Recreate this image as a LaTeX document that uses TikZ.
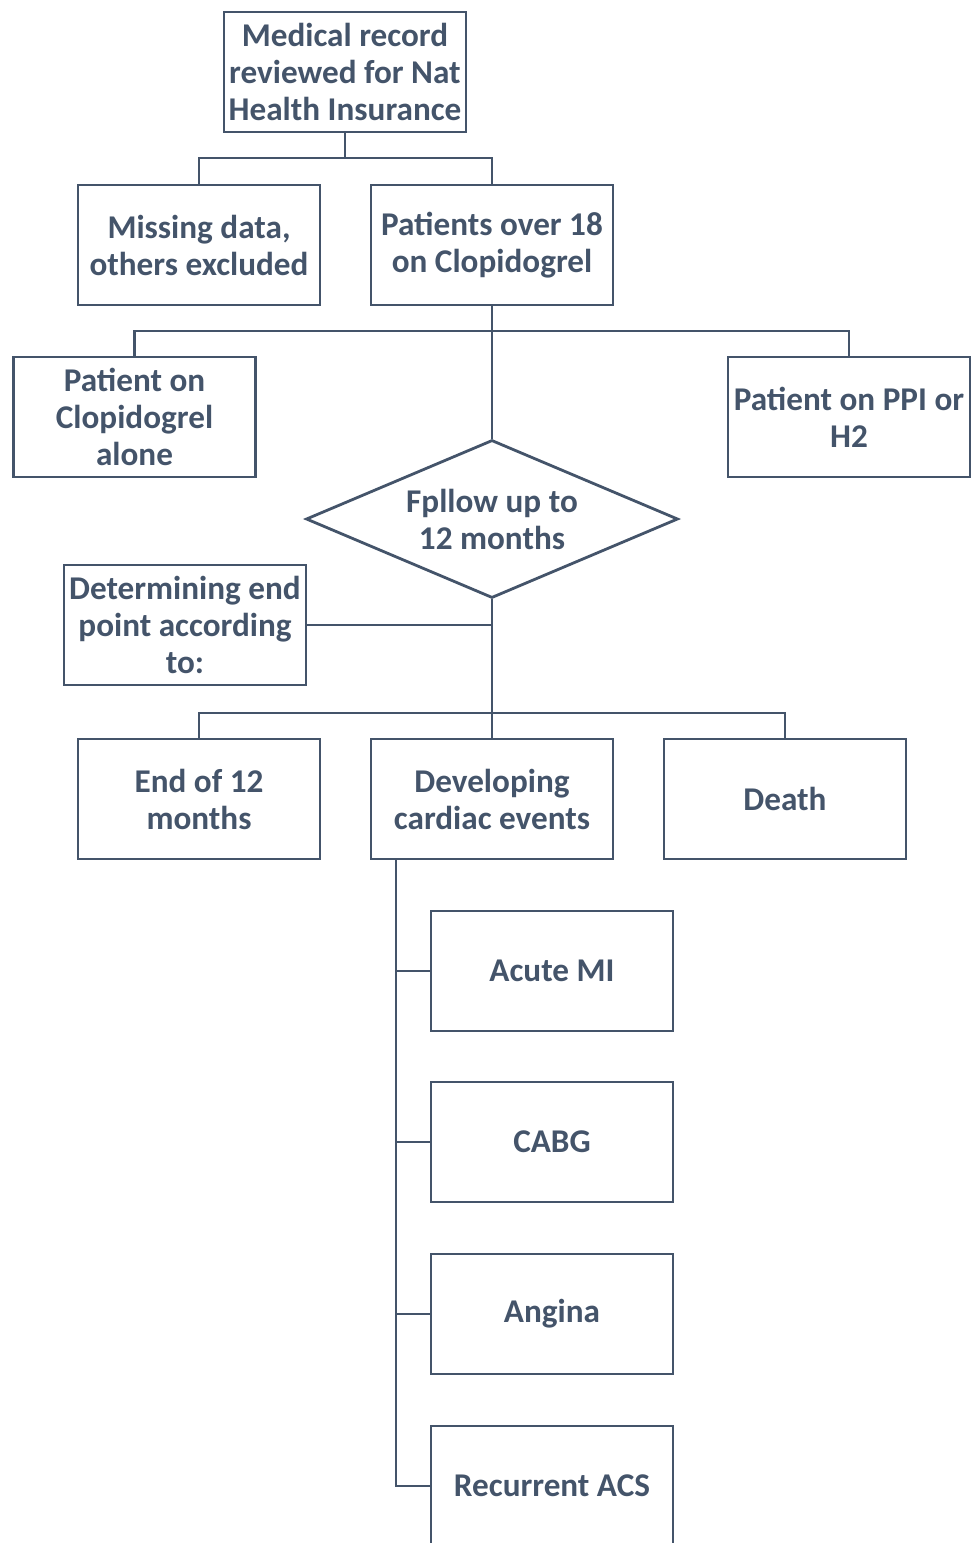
\documentclass[tikz,border=0pt]{standalone}
\usepackage{fontspec}
\setmainfont{Carlito}
\usepackage{xcolor}
\usepackage{tikz}
\usetikzlibrary{shapes.geometric}
\definecolor{slate}{HTML}{44546A}

\begin{document}
\begin{tikzpicture}[x=0.5pt,y=-0.5pt,line width=1.4pt,color=slate,
    box/.style={draw,rectangle,minimum width=121pt,minimum height=60pt,inner sep=0pt,
      align=center,font=\bfseries\fontsize{16.6}{18.5}\selectfont},
    decision/.style={draw,diamond,aspect=2.35,minimum width=186pt,minimum height=79pt,
      inner sep=0pt,align=center,font=\bfseries\fontsize{16.6}{18.5}\selectfont}]
    \useasboundingbox (0,0) rectangle (971,1543);
    \clip (0,0) rectangle (971,1543);
    \node[box] (record) at (345,72) {Medical record\\reviewed for Nat\\Health Insurance};
    \node[box] (missing) at (199,245) {Missing data,\\others excluded};
    \node[box] (patients) at (492,245) {Patients over 18\\on Clopidogrel};
    \node[box] (alone) at (134.5,417) {Patient on\\Clopidogrel\\alone};
    \node[box] (ppi) at (849,417) {Patient on PPI or\\H2};
    \node[decision] (follow) at (492,519) {Fpllow up to\\12 months};
    \node[box] (endpoint) at (185,625) {Determining end\\point according\\to:};
    \node[box] (end12) at (199,799) {End of 12\\months};
    \node[box] (cardiac) at (492,799) {Developing\\cardiac events};
    \node[box] (death) at (785,799) {Death};
    \node[box] (ami) at (552,971) {Acute MI};
    \node[box] (cabg) at (552,1142) {CABG};
    \node[box] (angina) at (552,1314) {Angina};
    \node[box] (acs) at (552,1486) {Recurrent ACS};
    \coordinate (j1) at (345,158);
    \coordinate (j2) at (492,331);
    \coordinate (j3) at (492,713);
    \coordinate (trunk) at (396,859);
    \draw[-] (record) to (j1);
    \draw[-] (missing.north) |- (j1) -| (patients.north);
    \draw[-] (alone.north) |- (j2) -| (ppi.north);
    \draw[-] (patients.south) to (follow.north);
    \draw[-] (endpoint.east) to (endpoint.east -| follow.south);
    \draw[-] (follow.south) to (j3);
    \draw[-] (end12.north) |- (j3) -| (death.north);
    \draw[-] (j3) to (cardiac.north);
    \draw[-] (trunk) |- (acs.west);
    \foreach \ev in {ami,cabg,angina}
      \draw[-] (trunk |- \ev.west) to (\ev.west);
\end{tikzpicture}
\end{document}
